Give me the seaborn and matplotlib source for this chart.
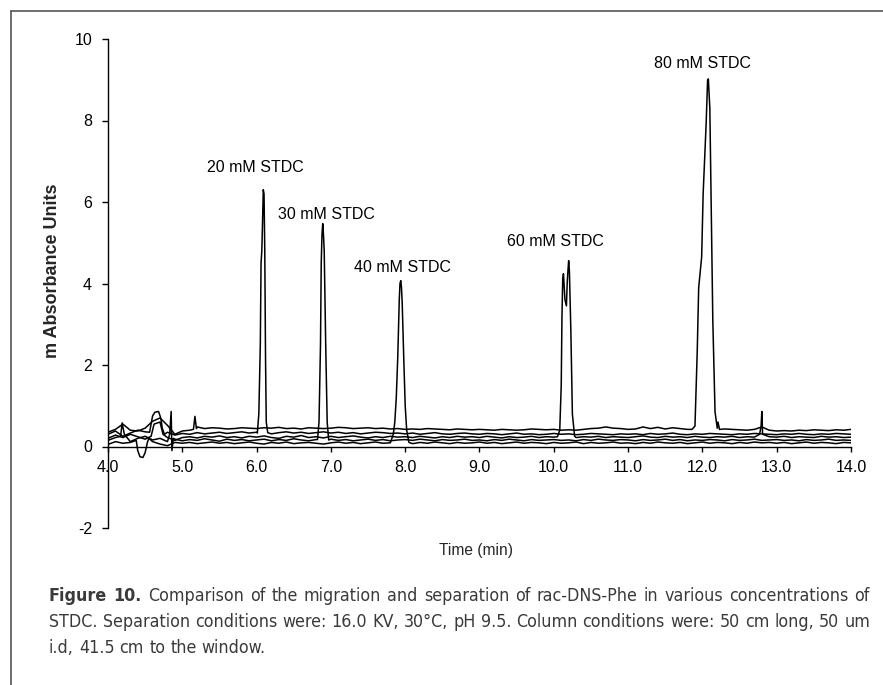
import os
import numpy as np
import pandas as pd
import matplotlib
matplotlib.use("Agg")
import matplotlib.pyplot as plt
import seaborn as sns
from matplotlib.lines import Line2D
from matplotlib import font_manager
from matplotlib.font_manager import FontProperties

sns.set_style("white")
plt.rcParams["font.family"] = ["Liberation Sans", "DejaVu Sans"]

# ---------------- data ----------------
time_grid = np.round(np.arange(4.0, 14.0001, 0.1), 2)

base_80 = [0.35, 0.42, 0.55, 0.40, 0.38, 0.45, 0.62, 0.70, 0.52, 0.30,
           0.38, 0.40, 0.48, 0.44, 0.46, 0.45, 0.43, 0.44, 0.46, 0.45,
           0.44, 0.46, 0.45, 0.47, 0.44, 0.45, 0.43, 0.46, 0.45, 0.44,
           0.45, 0.47, 0.46, 0.44, 0.45, 0.46, 0.44, 0.45, 0.43, 0.44,
           0.42, 0.43, 0.42, 0.44, 0.43, 0.42, 0.41, 0.43, 0.42, 0.41,
           0.42, 0.41, 0.40, 0.42, 0.41, 0.40, 0.41, 0.43, 0.42, 0.41,
           0.42, 0.40, 0.41, 0.40, 0.42, 0.44, 0.45, 0.48, 0.45, 0.44,
           0.42, 0.43, 0.48, 0.44, 0.47, 0.43, 0.46, 0.44, 0.42, 0.41,
           0.42, 0.43, 0.45, 0.43, 0.42, 0.41, 0.40, 0.42, 0.48, 0.40,
           0.38, 0.39, 0.38, 0.40, 0.39, 0.41, 0.40, 0.39, 0.41, 0.40,
           0.42]
base_20 = [0.30, 0.38, 0.25, 0.33, 0.40, 0.36, 0.45, 0.50, 0.35, 0.28,
           0.32, 0.30, 0.34, 0.31, 0.33, 0.35, 0.32, 0.34, 0.36, 0.33,
           0.35, 0.33, 0.31, 0.34, 0.36, 0.33, 0.35, 0.32, 0.34, 0.36,
           0.33, 0.35, 0.32, 0.34, 0.31, 0.33, 0.35, 0.34, 0.32, 0.33,
           0.31, 0.33, 0.30, 0.32, 0.34, 0.31, 0.30, 0.32, 0.33, 0.31,
           0.30, 0.32, 0.31, 0.29, 0.31, 0.33, 0.30, 0.31, 0.29, 0.30,
           0.32, 0.30, 0.31, 0.29, 0.30, 0.32, 0.31, 0.30, 0.29, 0.31,
           0.30, 0.31, 0.29, 0.32, 0.30, 0.31, 0.33, 0.30, 0.29, 0.31,
           0.30, 0.32, 0.31, 0.30, 0.29, 0.31, 0.30, 0.32, 0.31, 0.30,
           0.29, 0.31, 0.30, 0.32, 0.30, 0.29, 0.31, 0.30, 0.32, 0.31,
           0.30]
base_60 = [0.20, 0.28, 0.22, 0.30, 0.24, 0.18, 0.26, 0.30, 0.22, 0.15,
           0.22, 0.24, 0.21, 0.25, 0.23, 0.26, 0.22, 0.24, 0.21, 0.25,
           0.23, 0.26, 0.22, 0.20, 0.25, 0.23, 0.27, 0.22, 0.24, 0.21,
           0.25, 0.22, 0.24, 0.26, 0.23, 0.21, 0.24, 0.22, 0.25, 0.23,
           0.24, 0.22, 0.25, 0.23, 0.21, 0.24, 0.22, 0.25, 0.23, 0.24,
           0.22, 0.25, 0.23, 0.21, 0.24, 0.22, 0.23, 0.25, 0.22, 0.24,
           0.23, 0.25, 0.24, 0.22, 0.24, 0.23, 0.25, 0.22, 0.24, 0.23,
           0.22, 0.24, 0.26, 0.23, 0.22, 0.25, 0.23, 0.24, 0.22, 0.25,
           0.23, 0.22, 0.24, 0.23, 0.25, 0.22, 0.24, 0.23, 0.22, 0.24,
           0.23, 0.25, 0.22, 0.24, 0.23, 0.22, 0.25, 0.23, 0.24, 0.22,
           0.23]
base_30 = [0.15, 0.22, 0.18, 0.12, 0.20, 0.25, 0.16, 0.20, 0.12, 0.18,
           0.14, 0.17, 0.15, 0.19, 0.16, 0.13, 0.18, 0.15, 0.17, 0.14,
           0.16, 0.18, 0.14, 0.17, 0.15, 0.19, 0.16, 0.14, 0.17, 0.15,
           0.18, 0.15, 0.17, 0.14, 0.16, 0.18, 0.15, 0.17, 0.14, 0.16,
           0.17, 0.15, 0.18, 0.16, 0.14, 0.17, 0.15, 0.16, 0.18, 0.15,
           0.16, 0.14, 0.17, 0.15, 0.18, 0.16, 0.14, 0.17, 0.15, 0.16,
           0.17, 0.15, 0.16, 0.14, 0.17, 0.15, 0.18, 0.16, 0.15, 0.17,
           0.16, 0.14, 0.17, 0.15, 0.16, 0.18, 0.15, 0.17, 0.14, 0.16,
           0.15, 0.17, 0.16, 0.14, 0.17, 0.15, 0.16, 0.18, 0.15, 0.16,
           0.17, 0.15, 0.16, 0.14, 0.17, 0.15, 0.16, 0.18, 0.15, 0.16,
           0.15]
base_40 = [0.05, 0.12, 0.08, 0.10, 0.15, 0.08, 0.12, 0.06, 0.02, 0.10,
           0.08, 0.10, 0.07, 0.09, 0.11, 0.08, 0.10, 0.07, 0.09, 0.11,
           0.08, 0.06, 0.10, 0.08, 0.11, 0.07, 0.09, 0.10, 0.08, 0.06,
           0.09, 0.11, 0.08, 0.10, 0.07, 0.09, 0.11, 0.08, 0.10, 0.12,
           0.09, 0.07, 0.10, 0.08, 0.11, 0.09, 0.07, 0.10, 0.08, 0.09,
           0.11, 0.08, 0.10, 0.07, 0.09, 0.11, 0.08, 0.10, 0.09, 0.07,
           0.10, 0.08, 0.09, 0.11, 0.07, 0.10, 0.08, 0.09, 0.11, 0.08,
           0.09, 0.07, 0.10, 0.08, 0.11, 0.09, 0.08, 0.10, 0.07, 0.09,
           0.11, 0.08, 0.10, 0.09, 0.07, 0.10, 0.08, 0.11, 0.09, 0.10,
           0.08, 0.10, 0.07, 0.09, 0.11, 0.08, 0.10, 0.09, 0.07, 0.10,
           0.09]

# peaks (time, value)
peak20_t = [6.01, 6.03, 6.05, 6.06, 6.07, 6.08, 6.09, 6.10, 6.11, 6.12, 6.13, 6.15]
peak20_v = [0.33, 0.80, 2.50, 4.50, 4.80, 5.50, 6.30, 6.20, 4.80, 2.20, 0.60, 0.34]
peak30_t = [6.82, 6.84, 6.86, 6.87, 6.88, 6.89, 6.90, 6.91, 6.93, 6.95, 6.97]
peak30_v = [0.17, 0.60, 2.50, 4.50, 5.20, 5.47, 5.20, 4.80, 2.50, 0.60, 0.16]
peak40_t = [7.80, 7.84, 7.86, 7.88, 7.90, 7.92, 7.93, 7.94, 7.95, 7.96, 7.98, 8.00, 8.02, 8.05]
peak40_v = [0.09, 0.30, 0.60, 1.20, 2.20, 3.60, 4.00, 4.07, 3.90, 3.50, 2.20, 1.00, 0.40, 0.10]
peak60_t = [10.05, 10.08, 10.10, 10.11, 10.12, 10.13, 10.15, 10.17, 10.18, 10.19, 10.20, 10.21, 10.23, 10.25, 10.28]
peak60_v = [0.24, 0.40, 1.50, 3.20, 4.10, 4.24, 3.60, 3.45, 4.00, 4.30, 4.56, 4.30, 2.80, 0.80, 0.25]
peak80_t = [11.86, 11.90, 11.93, 11.95, 11.99, 12.01, 12.05, 12.07, 12.08, 12.10, 12.12, 12.14, 12.17, 12.20, 12.21, 12.23]
peak80_v = [0.42, 0.50, 2.30, 3.90, 4.65, 6.20, 7.90, 9.00, 9.02, 8.30, 5.70, 3.10, 0.85, 0.45, 0.60, 0.42]

# baseline disturbances (time, value)
dip40_t = [4.38, 4.40, 4.43, 4.47, 4.50, 4.53, 4.55]
dip40_v = [0.15, -0.10, -0.25, -0.27, -0.15, 0.10, 0.20]
bump20_t = [4.56, 4.60, 4.63, 4.68, 4.71, 4.73, 4.76]
bump20_v = [0.35, 0.75, 0.84, 0.86, 0.70, 0.45, 0.30]
bump60_t = [4.58, 4.62, 4.70, 4.74]
bump60_v = [0.25, 0.55, 0.60, 0.30]
spike30a_t = [4.17, 4.19, 4.22]
spike30a_v = [0.25, 0.58, 0.30]
spike30b_t = [4.83, 4.85, 4.86, 4.88]
spike30b_v = [0.30, 0.86, -0.10, 0.20]
spike80_t = [5.15, 5.17, 5.19]
spike80_v = [0.42, 0.74, 0.44]
spike60_t = [12.77, 12.79, 12.80, 12.81]
spike60_v = [0.30, 0.50, 0.86, 0.30]

labels = ["20 mM STDC", "30 mM STDC", "40 mM STDC", "60 mM STDC", "80 mM STDC"]
label_x = [5.33, 6.29, 7.31, 9.37, 11.35]
label_y = [6.84, 5.69, 4.39, 5.02, 9.41]

x_ticks = [4.0, 5.0, 6.0, 7.0, 8.0, 9.0, 10.0, 11.0, 12.0, 13.0, 14.0]
y_ticks = [-2, 0, 2, 4, 6, 8, 10]

caption_bold = "Figure 10."
caption_line1 = "Comparison of the migration and separation of rac-DNS-Phe in various concentrations of"
caption_line2 = "STDC. Separation conditions were: 16.0 KV, 30°C, pH 9.5. Column conditions were: 50 cm long, 50 um"
caption_line3 = "i.d, 41.5 cm to the window."


def build(base, events):
    base = np.asarray(base, float)
    keep = np.ones(len(time_grid), bool)
    for et, ev in events:
        keep &= ~((time_grid >= min(et)) & (time_grid <= max(et)))
    tt = list(time_grid[keep])
    vv = list(base[keep])
    for et, ev in events:
        tt += list(et)
        vv += list(ev)
    order = np.argsort(tt, kind="stable")
    return np.array(tt)[order], np.array(vv)[order]


traces = {
    "80 mM": build(base_80, [(peak80_t, peak80_v), (spike80_t, spike80_v)]),
    "20 mM": build(base_20, [(peak20_t, peak20_v), (bump20_t, bump20_v)]),
    "60 mM": build(base_60, [(peak60_t, peak60_v), (bump60_t, bump60_v), (spike60_t, spike60_v)]),
    "30 mM": build(base_30, [(peak30_t, peak30_v), (spike30a_t, spike30a_v), (spike30b_t, spike30b_v)]),
    "40 mM": build(base_40, [(peak40_t, peak40_v), (dip40_t, dip40_v)]),
}

# ---------------- figure ----------------
W, H = 883, 685
fig = plt.figure(figsize=(W / 100, H / 100), dpi=100)
ax = fig.add_axes([108 / W, 1 - 528 / H, (851 - 108) / W, (528 - 39) / H])

for name, (t, v) in traces.items():
    df = pd.DataFrame({"time": t, "abs": v})
    sns.lineplot(data=df, x="time", y="abs", ax=ax, color="black", lw=1.1,
                 estimator=None, sort=True)

ax.set_xlim(4, 14)
ax.set_ylim(-2, 10)
ax.set_xlabel("")
ax.set_ylabel("")
for s in ["top", "right"]:
    ax.spines[s].set_visible(False)
ax.spines["bottom"].set_position(("data", 0))
for s in ["left", "bottom"]:
    ax.spines[s].set_color("black")
    ax.spines[s].set_linewidth(1.0)

ax.set_xticks(x_ticks)
ax.set_xticklabels([f"{v:.1f}" for v in x_ticks])
ax.set_yticks(y_ticks)
ax.set_yticklabels([str(v) for v in y_ticks])
ax.tick_params(axis="x", direction="out", length=3.5, width=1, pad=6,
               labelsize=11.5, colors="black", bottom=True)
ax.tick_params(axis="y", direction="out", length=4.5, width=1, pad=7,
               labelsize=11.5, colors="black", left=True)
ax.grid(False)

for lab, lx, ly in zip(labels, label_x, label_y):
    ax.text(lx, ly, lab, ha="left", va="center", fontsize=11.5, color="black")

fig.text(476 / W, 1 - 551 / H, "Time (min)", ha="center", va="center", fontsize=11.2)
fig.text(53 / W, 1 - 271 / H, "m Absorbance Units", ha="center", va="center",
         rotation=90, fontsize=13, fontweight="bold")

# frame lines
fig.add_artist(Line2D([11 / W, 1.0], [1 - 11 / H, 1 - 11 / H], transform=fig.transFigure,
                      color="#555555", lw=1.2))
fig.add_artist(Line2D([11 / W, 11 / W], [1 - 11 / H, 0.0], transform=fig.transFigure,
                      color="#555555", lw=1.2))


# caption font: prefer a semi-condensed humanist sans
def pick_font(patterns):
    files = {os.path.basename(f.fname).lower(): f.fname for f in font_manager.fontManager.ttflist}
    for p in patterns:
        if p.lower() in files:
            return files[p.lower()]
    return None


reg_file = pick_font(["NotoSans-SemiCondensed.ttf", "NotoSans-SemiCondensed.otf",
                      "NotoSans-Condensed.ttf", "LiberationSansNarrow-Regular.ttf",
                      "DejaVuSansCondensed.ttf"])
bold_file = pick_font(["NotoSans-SemiCondensedBold.ttf", "NotoSans-SemiCondensedBold.otf",
                       "NotoSans-CondensedBold.ttf", "LiberationSansNarrow-Bold.ttf",
                       "DejaVuSansCondensed-Bold.ttf"])
cap_color = "#3a3a3a"


def make_fp(size):
    r = FontProperties(fname=reg_file, size=size) if reg_file else FontProperties(family="DejaVu Sans", size=size)
    b = FontProperties(fname=bold_file, size=size) if bold_file else FontProperties(family="DejaVu Sans", weight="bold", size=size)
    return r, b


fig.canvas.draw()
renderer = fig.canvas.get_renderer()

# size the caption so that the first line fills the column naturally
probe_size = 12.0
fr, fb = make_fp(probe_size)
tb = fig.text(0, 0, caption_bold, fontproperties=fb)
tr = fig.text(0, 0, " " + caption_line1, fontproperties=fr)
nat = tb.get_window_extent(renderer).width + tr.get_window_extent(renderer).width
tb.remove()
tr.remove()
cap_size = probe_size * (870 - 49) / nat * 0.985
cap_size = min(max(cap_size, 9.5), 13.5)
fp_reg, fp_bold = make_fp(cap_size)


def justify(words, bold_n, y_px, x0, x1, just=True):
    texts = []
    for i, w in enumerate(words):
        t = fig.text(0, 1 - y_px / H, w, fontproperties=fp_bold if i < bold_n else fp_reg,
                     color=cap_color, ha="left", va="baseline")
        texts.append(t)
    widths = [t.get_window_extent(renderer).width for t in texts]
    sp = fig.text(0, 0, "a a", fontproperties=fp_reg)
    sp2 = fig.text(0, 0, "aa", fontproperties=fp_reg)
    natural_gap = sp.get_window_extent(renderer).width - sp2.get_window_extent(renderer).width
    sp.remove()
    sp2.remove()
    if just and len(words) > 1:
        gap = (x1 - x0 - sum(widths)) / (len(words) - 1)
    else:
        gap = natural_gap
    x = x0
    for t, w in zip(texts, widths):
        t.set_x(x / W)
        x += w + gap


justify(caption_bold.split(" ") + caption_line1.split(" "), 2, 601, 49, 870)
justify(caption_line2.split(" "), 0, 627, 49, 870)
justify(caption_line3.split(" "), 0, 653, 49, 870, just=False)

fig.savefig("out.png", dpi=100)
